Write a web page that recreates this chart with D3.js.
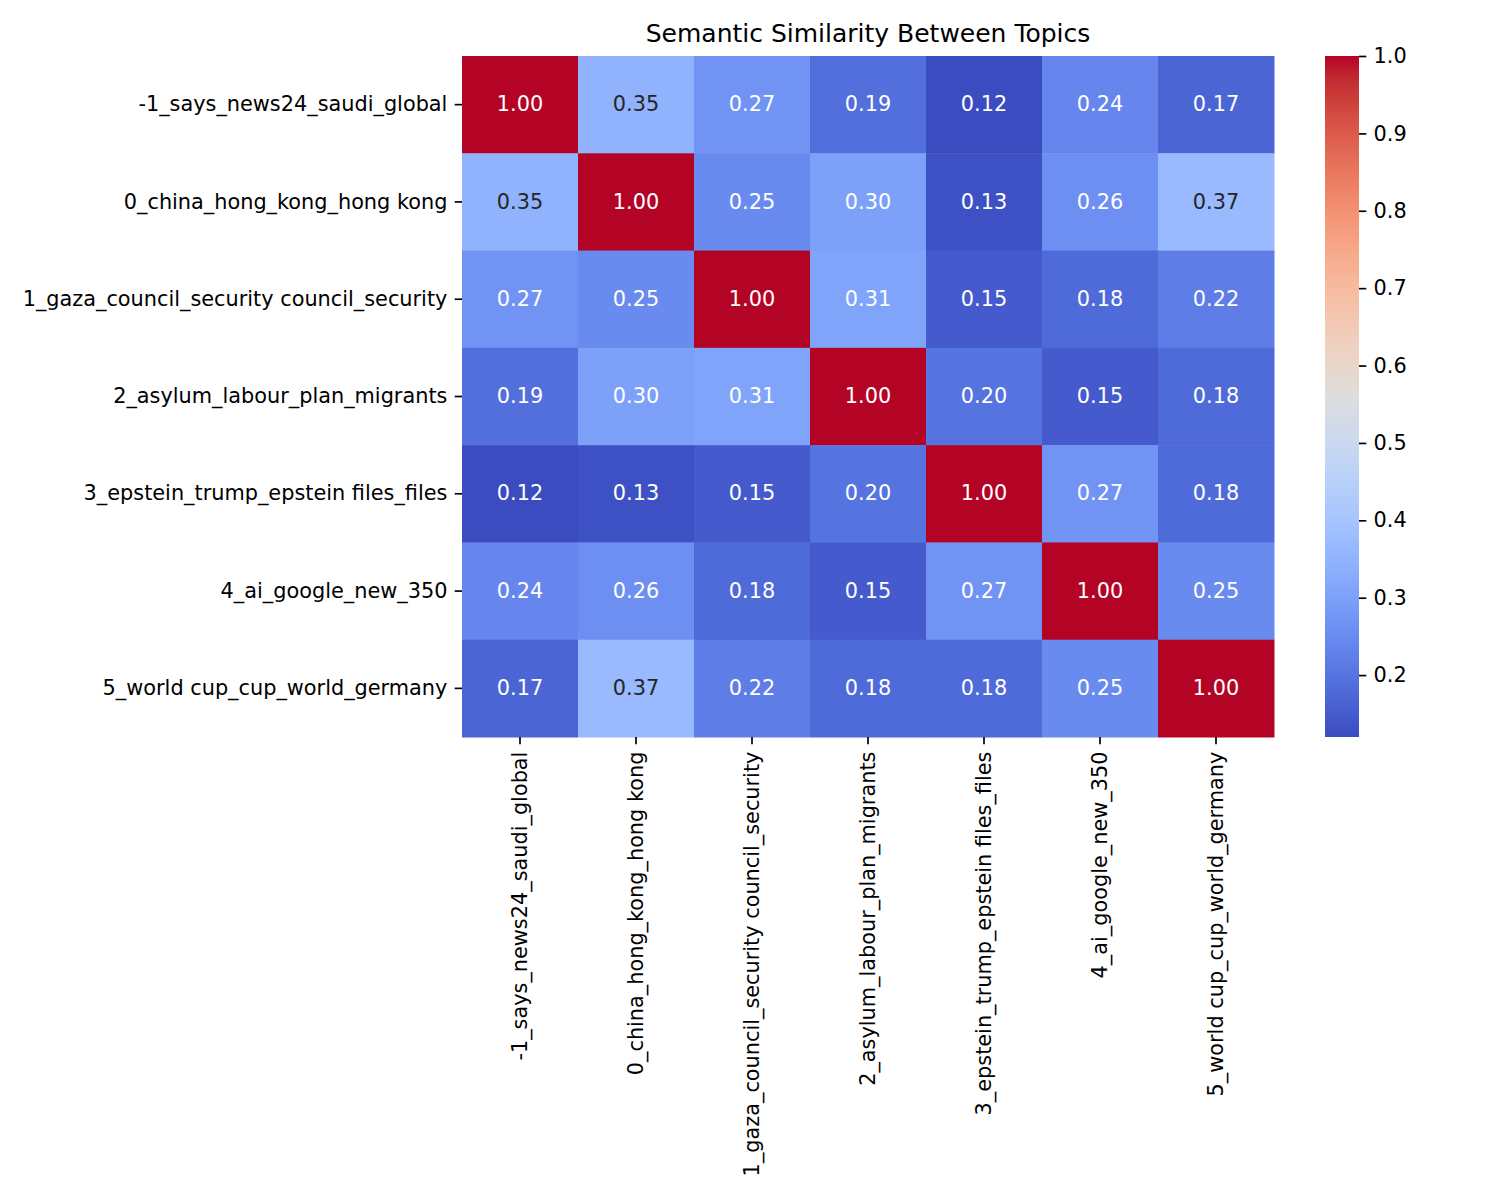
<!DOCTYPE html>
<html>
<head>
<meta charset="utf-8">
<script src="https://cdn.jsdelivr.net/npm/d3@7"></script>
<style>
  body { margin: 0; background: #fff; }
  text { font-family: "DejaVu Sans", sans-serif; fill: #000; }
</style>
</head>
<body>
<svg id="chart"></svg>
<script>
const topics = [
  "-1_says_news24_saudi_global",
  "0_china_hong_kong_hong kong",
  "1_gaza_council_security council_security",
  "2_asylum_labour_plan_migrants",
  "3_epstein_trump_epstein files_files",
  "4_ai_google_new_350",
  "5_world cup_cup_world_germany"
];

const similarity = [
  [1.00, 0.35, 0.27, 0.19, 0.12, 0.24, 0.17],
  [0.35, 1.00, 0.25, 0.30, 0.13, 0.26, 0.37],
  [0.27, 0.25, 1.00, 0.31, 0.15, 0.18, 0.22],
  [0.19, 0.30, 0.31, 1.00, 0.20, 0.15, 0.18],
  [0.12, 0.13, 0.15, 0.20, 1.00, 0.27, 0.18],
  [0.24, 0.26, 0.18, 0.15, 0.27, 1.00, 0.25],
  [0.17, 0.37, 0.22, 0.18, 0.18, 0.25, 1.00]
];

const colorbarTicks = [0.2, 0.3, 0.4, 0.5, 0.6, 0.7, 0.8, 0.9, 1.0];

// coolwarm control points (Moreland)
const coolwarm = [
  [59,76,192],[68,90,204],[77,104,215],[87,117,225],[98,130,234],[108,142,241],
  [119,154,247],[130,165,251],[141,176,254],[152,185,255],[163,194,255],[174,201,253],
  [184,208,249],[194,213,244],[204,217,238],[213,219,230],[221,221,221],[229,216,209],
  [236,211,197],[241,204,185],[245,196,173],[247,187,160],[247,177,148],[247,166,135],
  [244,154,123],[241,141,111],[236,127,99],[229,112,89],[222,96,79],[213,80,69],
  [203,62,56],[192,40,47],[180,4,38]
];
const cmap = d3.scaleLinear()
  .domain(coolwarm.map((c, i) => i / (coolwarm.length - 1)))
  .range(coolwarm.map(c => d3.rgb(c[0], c[1], c[2])))
  .interpolate(d3.interpolateRgb)
  .clamp(true);

const width = 1500, height = 1200;
const plot = { left: 462, right: 1274, top: 56, bottom: 737 };
const cbar = { left: 1325, right: 1359 };
const fontPx = 20.83;
const tickLen = 7.3, tickPad = 7.3;

const all = similarity.flat();
const vmin = d3.min(all), vmax = d3.max(all);
const norm = d3.scaleLinear().domain([vmin, vmax]).range([0, 1]);
const color = v => cmap(norm(v));

function luminance(c) {
  const rgb = d3.rgb(c);
  const f = x => {
    x /= 255;
    return x <= 0.03928 ? x / 12.92 : Math.pow((x + 0.055) / 1.055, 2.4);
  };
  return 0.2126 * f(rgb.r) + 0.7152 * f(rgb.g) + 0.0722 * f(rgb.b);
}

const svg = d3.select("#chart").attr("width", width).attr("height", height);

const x = d3.scaleBand().domain(topics).range([plot.left, plot.right]);
const y = d3.scaleBand().domain(topics).range([plot.top, plot.bottom]);

const cells = [];
similarity.forEach((row, i) => row.forEach((v, j) => cells.push({ r: topics[i], c: topics[j], v })));

const cell = svg.append("g").selectAll("g").data(cells).join("g");
cell.append("rect")
  .attr("x", d => x(d.c))
  .attr("y", d => y(d.r))
  .attr("width", x.bandwidth() + 0.5)
  .attr("height", y.bandwidth() + 0.5)
  .attr("fill", d => color(d.v));
cell.append("text")
  .attr("x", d => x(d.c) + x.bandwidth() / 2)
  .attr("y", d => y(d.r) + y.bandwidth() / 2)
  .attr("dy", "0.32em")
  .attr("text-anchor", "middle")
  .style("font-size", fontPx + "px")
  .style("fill", d => luminance(color(d.v)) > 0.408 ? "#262626" : "#fff")
  .text(d => d3.format(".2f")(d.v));

// axes
const xAxis = svg.append("g")
  .attr("transform", `translate(0,${plot.bottom})`)
  .call(d3.axisBottom(x).tickSize(tickLen).tickPadding(tickPad));
xAxis.select(".domain").remove();
xAxis.selectAll("line").attr("stroke", "#000").attr("stroke-width", 1.67);
xAxis.selectAll("text")
  .style("font-size", fontPx + "px")
  .attr("text-anchor", "end")
  .attr("transform", "rotate(-90)")
  .attr("x", -(tickLen + tickPad))
  .attr("y", 0)
  .attr("dy", "0.32em");

const yAxis = svg.append("g")
  .attr("transform", `translate(${plot.left},0)`)
  .call(d3.axisLeft(y).tickSize(tickLen).tickPadding(tickPad));
yAxis.select(".domain").remove();
yAxis.selectAll("line").attr("stroke", "#000").attr("stroke-width", 1.67);
yAxis.selectAll("text").style("font-size", fontPx + "px").attr("dy", "0.32em");

// colorbar
const cy = d3.scaleLinear().domain([vmin, vmax]).range([plot.bottom, plot.top]);
const grad = svg.append("defs").append("linearGradient")
  .attr("id", "cbgrad").attr("x1", 0).attr("y1", 1).attr("x2", 0).attr("y2", 0);
d3.range(0, 1.0001, 1 / 64).forEach(t => {
  grad.append("stop").attr("offset", t).attr("stop-color", cmap(t));
});
svg.append("rect")
  .attr("x", cbar.left).attr("y", plot.top)
  .attr("width", cbar.right - cbar.left).attr("height", plot.bottom - plot.top)
  .attr("fill", "url(#cbgrad)");
const cAxis = svg.append("g")
  .attr("transform", `translate(${cbar.right},0)`)
  .call(d3.axisRight(cy).tickValues(colorbarTicks).tickFormat(d3.format(".1f"))
    .tickSize(tickLen).tickPadding(tickPad));
cAxis.select(".domain").remove();
cAxis.selectAll("line").attr("stroke", "#000").attr("stroke-width", 1.67);
cAxis.selectAll("text").style("font-size", fontPx + "px").attr("dy", "0.32em");

svg.append("text")
  .attr("x", (plot.left + plot.right) / 2)
  .attr("y", plot.top - 14)
  .attr("text-anchor", "middle")
  .style("font-size", "25px")
  .text("Semantic Similarity Between Topics");
</script>
</body>
</html>
